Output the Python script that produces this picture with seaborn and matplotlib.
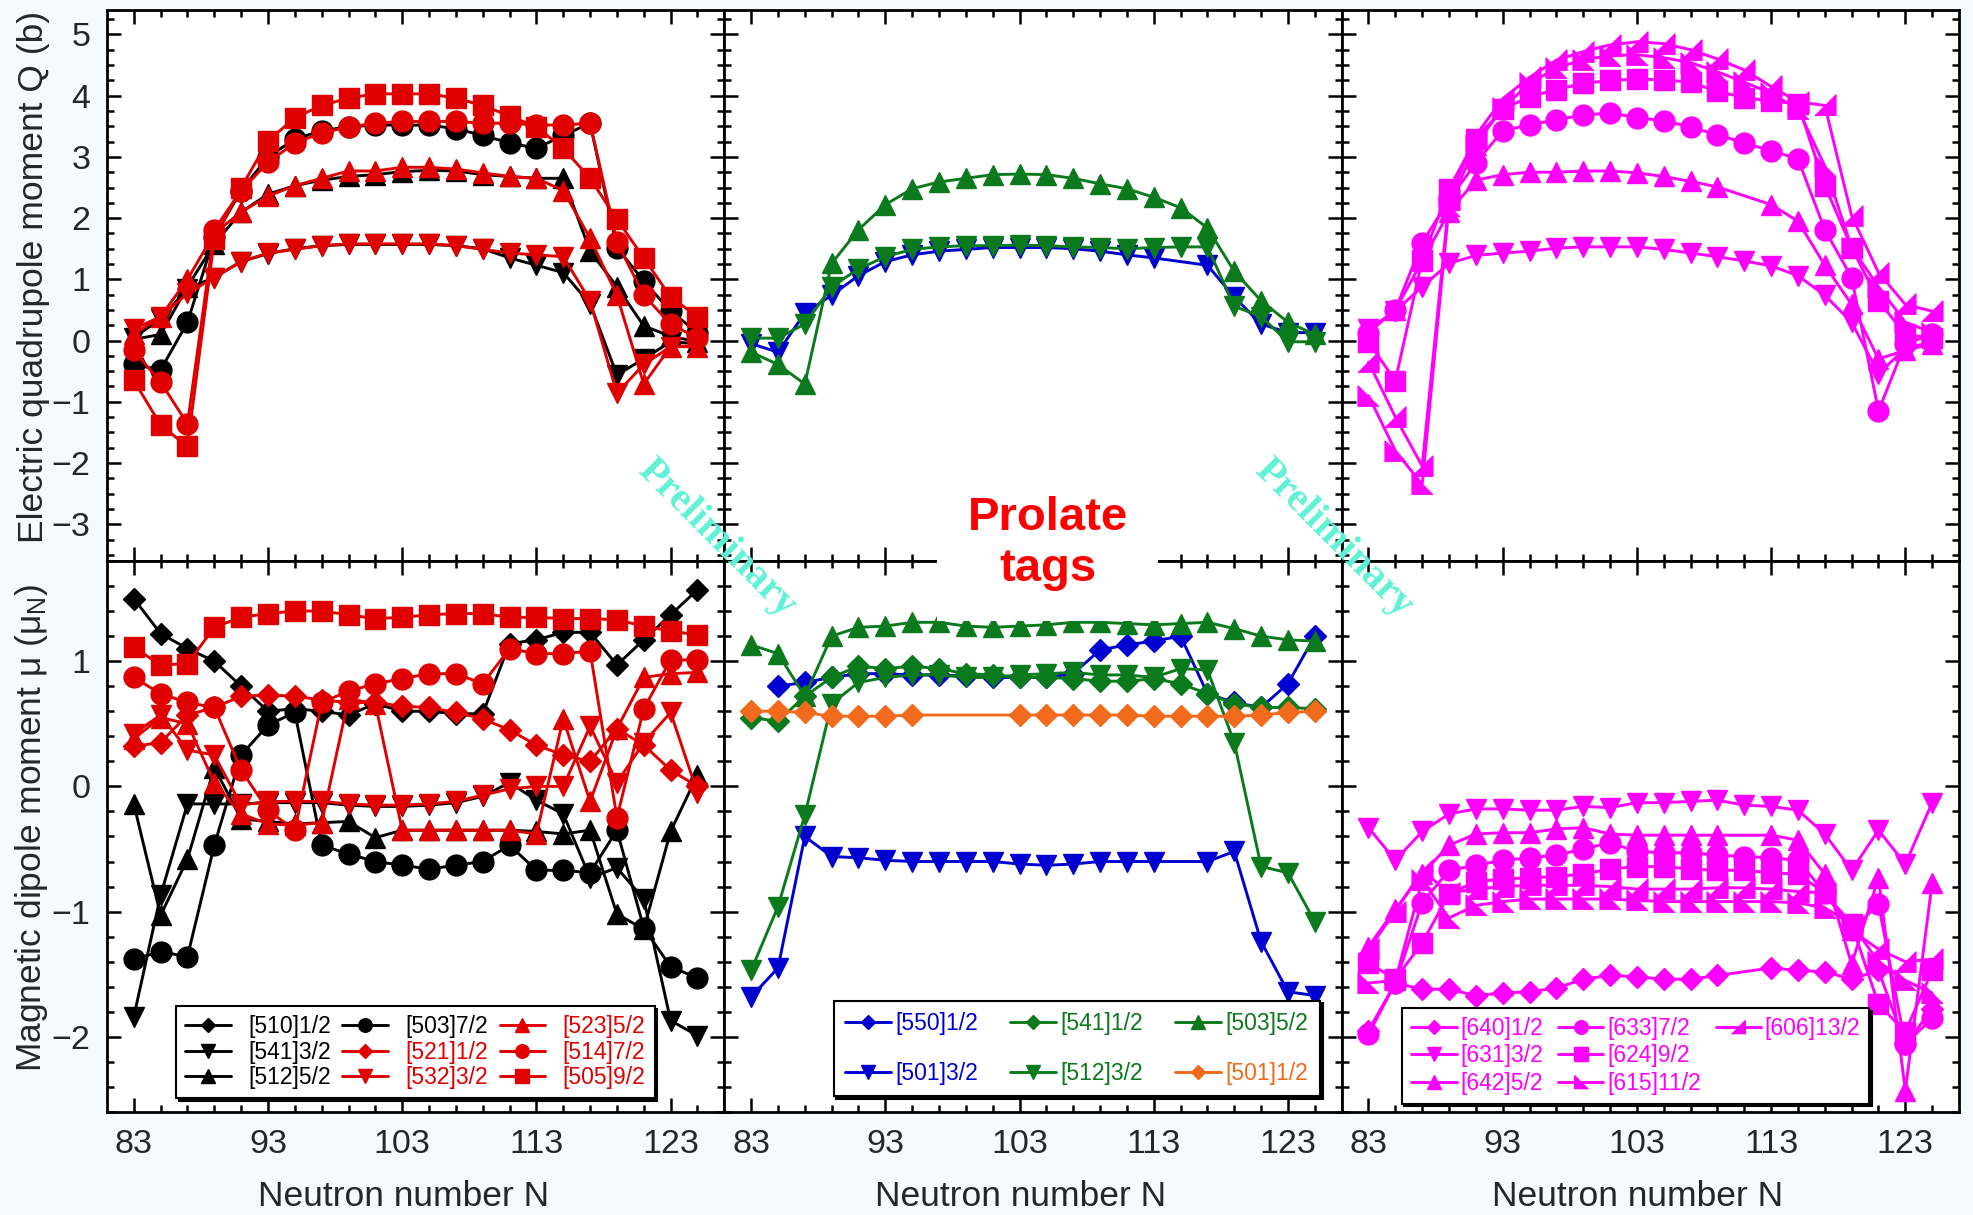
import numpy as np
import pandas as pd
import matplotlib
matplotlib.use('Agg')
import matplotlib.pyplot as plt
from matplotlib.ticker import FixedLocator, MultipleLocator
import seaborn as sns

sns.set_theme(style='ticks')
plt.rcParams['font.family'] = ['Liberation Sans', 'DejaVu Sans']
plt.rcParams['mathtext.fontset'] = 'custom'
plt.rcParams['mathtext.rm'] = 'Liberation Sans'
plt.rcParams['mathtext.it'] = 'Liberation Sans'

nan = np.nan

# Neutron numbers (x values)
N = [83, 85, 87, 89, 91, 93, 95, 97, 99, 101, 103, 105, 107, 109, 111, 113, 115, 117, 119, 121, 123, 125]

# ---- left column: black / red orbitals ----
q_541 = [0.05, 0.35, 0.85, 1.03, 1.29, 1.42, 1.5, 1.55, 1.57, 1.57, 1.57, 1.57, 1.55, 1.5, 1.35, 1.23, 1.11, 0.6, -0.56, -0.3, -0.02, -0.05]
q_512 = [0.02, 0.1, 0.88, 1.58, 2.1, 2.39, 2.53, 2.62, 2.68, 2.71, 2.76, 2.78, 2.77, 2.71, 2.68, 2.65, 2.65, 1.46, 0.88, 0.24, 0.07, -0.02]
q_503 = [-0.39, -0.48, 0.30, 1.69, 2.45, 3.0, 3.29, 3.43, 3.49, 3.52, 3.52, 3.52, 3.46, 3.35, 3.23, 3.14, 3.35, 3.55, 1.52, 0.97, 0.48, 0.13]
q_532 = [0.19, 0.39, 0.77, 1.03, 1.29, 1.43, 1.49, 1.55, 1.58, 1.58, 1.58, 1.58, 1.55, 1.49, 1.43, 1.40, 1.37, 0.65, -0.86, -0.39, -0.10, -0.08]
q_523 = [0.1, 0.39, 1.0, 1.75, 2.1, 2.36, 2.53, 2.65, 2.77, 2.77, 2.83, 2.83, 2.8, 2.74, 2.68, 2.65, 2.45, 1.67, 0.74, -0.71, -0.10, -0.10]
q_514 = [-0.16, -0.68, -1.36, 1.81, 2.45, 2.91, 3.23, 3.39, 3.49, 3.55, 3.58, 3.58, 3.58, 3.55, 3.55, 3.52, 3.52, 3.55, 1.61, 0.74, 0.27, 0.04]
q_505 = [-0.65, -1.38, -1.73, 1.66, 2.5, 3.26, 3.64, 3.84, 3.96, 4.03, 4.03, 4.03, 3.96, 3.84, 3.67, 3.49, 3.14, 2.65, 1.98, 1.35, 0.71, 0.39]

mu_510 = [1.50, 1.22, 1.10, 1.0, 0.8, 0.6, 0.62, 0.6, 0.57, 0.66, 0.6, 0.6, 0.58, 0.58, 1.14, 1.17, 1.23, 1.23, 0.97, 1.17, 1.37, 1.57]
mu_541 = [-1.84, -0.87, -0.14, -0.14, -0.14, -0.13, -0.13, -0.13, -0.15, -0.16, -0.16, -0.15, -0.13, -0.08, 0.03, -0.11, -0.22, -0.73, -0.65, -0.90, -1.87, -1.99]
mu_512 = [-0.14, -1.03, -0.58, 0.15, -0.26, -0.28, -0.30, -0.29, -0.28, -0.41, -0.35, -0.35, -0.35, -0.35, -0.35, -0.36, -0.38, -0.35, -1.02, -1.14, -0.36, 0.09]
mu_503 = [-1.38, -1.32, -1.36, -0.47, 0.25, 0.49, 0.59, -0.47, -0.54, -0.60, -0.63, -0.66, -0.63, -0.60, -0.47, -0.67, -0.67, -0.69, -0.35, -1.13, -1.44, -1.53]
mu_521 = [0.32, 0.35, 0.57, 0.63, 0.72, 0.73, 0.72, 0.69, 0.67, 0.67, 0.64, 0.63, 0.59, 0.54, 0.45, 0.33, 0.25, 0.20, 0.46, 0.33, 0.13, 0.0]
mu_532 = [0.42, 0.57, 0.29, 0.25, -0.15, -0.12, -0.12, -0.12, -0.14, -0.15, -0.15, -0.14, -0.12, -0.07, -0.02, 0.0, 0.0, 0.48, 0.03, 0.35, 0.59, -0.05]
mu_523 = [0.38, 0.55, 0.50, 0.03, -0.22, -0.30, -0.31, -0.29, 0.70, 0.66, -0.35, -0.35, -0.35, -0.35, -0.35, -0.38, 0.54, -0.12, 0.46, 0.87, 0.90, 0.91]
mu_514 = [0.87, 0.74, 0.67, 0.63, 0.13, -0.19, -0.35, 0.67, 0.76, 0.82, 0.86, 0.90, 0.90, 0.82, 1.10, 1.06, 1.06, 1.08, -0.25, 0.62, 1.01, 1.01]
mu_505 = [1.11, 0.97, 0.98, 1.27, 1.35, 1.38, 1.40, 1.40, 1.37, 1.34, 1.35, 1.37, 1.38, 1.38, 1.35, 1.35, 1.34, 1.34, 1.33, 1.28, 1.24, 1.21]

# ---- middle column: blue / green / orange ----
q_503g = [-0.19, -0.39, -0.71, 1.26, 1.81, 2.22, 2.48, 2.59, 2.65, 2.71, 2.72, 2.71, 2.65, 2.56, 2.48, 2.34, 2.17, 1.84, 1.13, 0.65, 0.30, 0.10]
q_512g = [0.04, 0.04, 0.27, 0.88, 1.17, 1.37, 1.49, 1.53, 1.55, 1.55, 1.56, 1.55, 1.53, 1.52, 1.50, 1.52, 1.53, 1.53, 0.56, 0.39, -0.02, -0.02]
q_501b = [-0.05, -0.19, 0.45, 0.74, 1.06, 1.29, 1.40, 1.46, 1.49, 1.52, 1.52, 1.52, 1.50, 1.46, 1.40, 1.35, nan, 1.23, 0.71, 0.27, 0.13, 0.13]

mu_550 = [nan, 0.80, 0.83, 0.87, 0.90, 0.90, 0.89, 0.89, 0.88, 0.87, 0.87, 0.87, 0.90, 1.09, 1.13, 1.16, 1.20, 0.74, 0.67, 0.63, 0.82, 1.20]
mu_541g = [0.55, 0.52, 0.72, 0.87, 0.96, 0.94, 0.96, 0.94, 0.90, 0.89, 0.87, 0.87, 0.86, 0.84, 0.84, 0.86, 0.82, 0.74, 0.66, 0.63, 0.63, 0.62]
mu_503g = [1.13, 1.06, 0.72, 1.20, 1.27, 1.28, 1.31, 1.31, 1.28, 1.27, 1.28, 1.29, 1.31, 1.31, 1.30, 1.29, 1.30, 1.31, 1.26, 1.20, 1.17, 1.16]
mu_512g = [-1.47, -0.96, -0.23, 0.66, 0.83, 0.87, 0.89, 0.89, 0.87, 0.87, 0.89, 0.90, 0.91, 0.89, 0.89, 0.87, 0.94, 0.93, 0.35, -0.64, -0.69, -1.08]
mu_501b = [-1.68, -1.45, -0.40, -0.56, -0.57, -0.59, -0.60, -0.60, -0.60, -0.60, -0.62, -0.63, -0.62, -0.60, -0.60, -0.60, nan, -0.60, -0.52, -1.24, -1.64, -1.67]
mu_501o = [0.60, 0.60, 0.59, 0.56, 0.56, 0.56, 0.57, nan, nan, nan, 0.57, 0.57, 0.57, 0.57, 0.57, 0.56, 0.56, 0.56, 0.56, 0.57, 0.59, 0.60]

# ---- right column: magenta ----
q_631 = [0.19, 0.48, 0.88, 1.26, 1.39, 1.43, 1.46, 1.51, 1.53, 1.53, 1.53, 1.49, 1.43, 1.37, 1.30, 1.22, 1.06, 0.74, 0.30, -0.54, -0.13, -0.02]
q_642 = [0.15, 0.5, 1.3, 2.1, 2.62, 2.71, 2.75, 2.75, 2.77, 2.77, 2.74, 2.68, 2.60, 2.51, nan, 2.22, 1.95, 1.23, 0.59, -0.3, -0.16, -0.05]
q_633 = [0.13, 0.5, 1.6, 2.3, 2.9, 3.43, 3.52, 3.61, 3.68, 3.72, 3.64, 3.59, 3.49, 3.36, 3.23, 3.10, 2.97, 1.81, 1.03, -1.15, -0.05, 0.10]
q_624 = [-0.02, -0.66, 1.32, 2.48, 3.29, 3.78, 3.98, 4.1, 4.2, 4.25, 4.27, 4.26, 4.22, 4.07, 3.97, 3.91, 3.87, 2.53, 1.52, 0.65, 0.10, 0.04]
q_615 = [-0.9, -1.8, -2.35, 2.2, 3.2, 3.8, 4.2, 4.45, 4.59, 4.65, 4.67, 4.62, 4.54, 4.39, 4.22, 4.04, 3.78, 2.85, 1.52, 0.88, 0.30, 0.13]
q_606 = [-0.35, -1.25, -2.05, 2.3, 3.35, 3.95, 4.3, 4.58, 4.72, 4.83, 4.88, 4.85, 4.75, 4.6, 4.42, 4.15, 3.9, 3.84, 2.04, 1.11, 0.59, 0.48]

mu_640 = [-1.95, -1.57, -1.62, -1.62, -1.67, -1.65, -1.64, -1.61, -1.54, -1.51, -1.52, -1.54, -1.54, -1.51, nan, -1.45, -1.47, -1.48, -1.54, -1.47, -2.06, -1.78]
mu_631 = [-0.33, -0.59, -0.36, -0.22, -0.18, -0.18, -0.19, -0.19, -0.16, -0.17, -0.13, -0.13, -0.12, -0.11, -0.15, -0.16, -0.19, -0.38, -0.67, -0.35, -0.62, -0.13]
mu_642 = [-1.28, -0.98, -0.7, -0.47, -0.38, -0.37, -0.37, -0.34, -0.33, -0.38, -0.39, -0.39, -0.39, -0.39, nan, -0.39, -0.43, -0.70, -1.42, -0.73, -2.43, -0.77]
mu_633 = [-1.98, -1.57, -0.93, -0.67, -0.63, -0.59, -0.57, -0.55, -0.50, -0.45, -0.52, -0.53, -0.53, -0.55, -0.56, -0.57, -0.59, -0.85, -1.15, -0.94, -2.06, -1.85]
mu_624 = [-1.41, -1.54, -1.25, -0.86, -0.76, -0.74, -0.73, -0.72, -0.70, -0.66, -0.64, -0.64, -0.66, -0.67, -0.67, -0.69, -0.70, -0.85, -1.10, -1.74, -1.96, -1.47]
mu_615 = [-1.57, -1.55, -0.75, -1.05, -0.95, -0.92, -0.90, -0.90, -0.90, -0.90, -0.91, -0.92, -0.92, -0.92, -0.92, -0.92, -0.93, -0.97, -1.10, -1.40, -1.55, -1.65]
mu_606 = [-1.30, -1.00, -0.67, -0.85, -0.82, -0.80, -0.79, -0.79, -0.79, -0.80, -0.82, -0.82, -0.82, -0.81, -0.81, -0.82, -0.84, -0.85, -1.15, -1.30, -1.40, -1.38]

BLACK = '#000000'
RED = '#e00000'
BLUE = '#0000d0'
GREEN = '#0b7a1c'
ORANGE = '#f26a1b'
MAG = '#ff00ff'

TRI_L = [(-1, -1), (-1, 1), (1, -1)]   # right angle bottom-left
TRI_R = [(1, -1), (1, 1), (-1, -1)]    # right angle bottom-right
MSIZE = {'D': 11, 'v': 15, '^': 15, 'o': 15, 's': 15}


def draw(ax, vals, color, marker, label=None):
    df = pd.DataFrame({'N': N, 'v': vals}).dropna()
    ms = MSIZE.get(marker, 15) if isinstance(marker, str) else 15
    sns.lineplot(data=df, x='N', y='v', ax=ax, color=color, marker=marker,
                 markersize=ms, markeredgecolor=color, markeredgewidth=1,
                 linewidth=2.1, legend=False, label=label)
    return ax.get_lines()[-1]


def add_legend(ax, handles, labels, anchor, **kw):
    leg = ax.legend(handles=handles, labels=labels, ncol=3, loc='lower left',
                    bbox_to_anchor=anchor, borderaxespad=0, fontsize=16.5,
                    labelcolor='linecolor', handlelength=2.0, markerscale=0.65,
                    fancybox=False, framealpha=1, edgecolor='black',
                    shadow={'color': 'black', 'alpha': 1}, **kw)
    leg.get_frame().set_linewidth(1.5)
    return leg


fig = plt.figure(figsize=(19.73, 12.15), dpi=100, facecolor='#f6fafc')
axes = fig.subplots(2, 3, sharex=True, sharey='row')
fig.subplots_adjust(left=0.0542, right=0.9929, bottom=0.0848, top=0.9918,
                    wspace=0, hspace=0)

# top-left
ax = axes[0, 0]
draw(ax, q_541, BLACK, 'v')
draw(ax, q_512, BLACK, '^')
draw(ax, q_503, BLACK, 'o')
draw(ax, q_532, RED, 'v')
draw(ax, q_523, RED, '^')
draw(ax, q_514, RED, 'o')
draw(ax, q_505, RED, 's')

# bottom-left
ax = axes[1, 0]
h = {}
h['510'] = draw(ax, mu_510, BLACK, 'D', '[510]1/2')
h['541'] = draw(ax, mu_541, BLACK, 'v', '[541]3/2')
h['512'] = draw(ax, mu_512, BLACK, '^', '[512]5/2')
h['503'] = draw(ax, mu_503, BLACK, 'o', '[503]7/2')
h['521'] = draw(ax, mu_521, RED, 'D', '[521]1/2')
h['532'] = draw(ax, mu_532, RED, 'v', '[532]3/2')
h['523'] = draw(ax, mu_523, RED, '^', '[523]5/2')
h['514'] = draw(ax, mu_514, RED, 'o', '[514]7/2')
h['505'] = draw(ax, mu_505, RED, 's', '[505]9/2')
order = ['510', '541', '512', '503', '521', '532', '523', '514', '505']
hl = [h[k] for k in order]
add_legend(ax, hl, [x.get_label() for x in hl], (0.112, 0.025),
           handletextpad=0.75, columnspacing=0.5, labelspacing=0.1, borderpad=0.4)

# top-middle
ax = axes[0, 1]
draw(ax, q_501b, BLUE, 'v')
draw(ax, q_503g, GREEN, '^')
draw(ax, q_512g, GREEN, 'v')

# bottom-middle
ax = axes[1, 1]
h = {}
h['550'] = draw(ax, mu_550, BLUE, 'D', '[550]1/2')
h['501b'] = draw(ax, mu_501b, BLUE, 'v', '[501]3/2')
h['541'] = draw(ax, mu_541g, GREEN, 'D', '[541]1/2')
h['503'] = draw(ax, mu_503g, GREEN, '^', '[503]5/2')
h['512'] = draw(ax, mu_512g, GREEN, 'v', '[512]3/2')
h['501o'] = draw(ax, mu_501o, ORANGE, 'D', '[501]1/2')
order = ['550', '501b', '541', '512', '503', '501o']
hl = [h[k] for k in order]
add_legend(ax, hl, [x.get_label() for x in hl], (0.177, 0.029),
           handletextpad=0.2, columnspacing=1.4, labelspacing=1.15, borderpad=0.5)

# top-right
ax = axes[0, 2]
draw(ax, q_631, MAG, 'v')
draw(ax, q_642, MAG, '^')
draw(ax, q_633, MAG, 'o')
draw(ax, q_624, MAG, 's')
draw(ax, q_615, MAG, TRI_L)
draw(ax, q_606, MAG, TRI_R)

# bottom-right
ax = axes[1, 2]
h = {}
h['640'] = draw(ax, mu_640, MAG, 'D', '[640]1/2')
h['631'] = draw(ax, mu_631, MAG, 'v', '[631]3/2')
h['642'] = draw(ax, mu_642, MAG, '^', '[642]5/2')
h['633'] = draw(ax, mu_633, MAG, 'o', '[633]7/2')
h['624'] = draw(ax, mu_624, MAG, 's', '[624]9/2')
h['615'] = draw(ax, mu_615, MAG, TRI_L, '[615]11/2')
h['606'] = draw(ax, mu_606, MAG, TRI_R, '[606]13/2')
blank = plt.Line2D([], [], alpha=0)
hl = [h['640'], h['631'], h['642'], h['633'], h['624'], h['615'], h['606'], blank, blank]
add_legend(ax, hl, [x.get_label() if x is not blank else '' for x in hl], (0.097, 0.015),
           handletextpad=0.15, columnspacing=0.65, labelspacing=0.18, borderpad=0.4)

# axes formatting
for ax in axes.flat:
    ax.set_xlim(81, 127)
    ax.xaxis.set_major_locator(FixedLocator([83, 93, 103, 113, 123]))
    ax.xaxis.set_minor_locator(FixedLocator(N))
    ax.tick_params(which='both', direction='in', top=True, right=True,
                   labelsize=24.5, width=1.8, color='black')
    ax.tick_params(which='major', length=10, pad=12)
    ax.tick_params(which='minor', length=5)
    for s in ax.spines.values():
        s.set_linewidth(2)
        s.set_color('black')
    ax.set_facecolor('white')
    ax.set_xlabel('')
    ax.set_ylabel('')

axes[0, 0].set_ylim(-3.6, 5.4)
axes[0, 0].yaxis.set_major_locator(MultipleLocator(1))
axes[0, 0].yaxis.set_minor_locator(MultipleLocator(0.25))
axes[1, 0].set_ylim(-2.6, 1.8)
axes[1, 0].yaxis.set_major_locator(MultipleLocator(1))
axes[1, 0].yaxis.set_minor_locator(MultipleLocator(0.2))

axes[0, 0].set_ylabel('Electric quadrupole moment Q (b)', fontsize=25.5)
axes[0, 0].yaxis.set_label_coords(-0.093, 0.515)
axes[1, 0].set_ylabel(r'Magnetic dipole moment μ (μ$_\mathrm{N}$)', fontsize=25.5)
axes[1, 0].yaxis.set_label_coords(-0.093, 0.515)
for ax in axes[1]:
    ax.set_xlabel('Neutron number N', fontsize=25.5)
    ax.xaxis.set_label_coords(0.48, -0.124)

# overlay texts
fig.text(0.531, 0.553, 'Prolate\ntags', color='#ff0000', fontsize=34,
         fontweight='bold', ha='center', va='center', linespacing=1.2,
         bbox=dict(facecolor='white', edgecolor='none', pad=22), zorder=10)
for xc in (0.3634, 0.6761):
    fig.text(xc, 0.557, 'Preliminary', rotation=-45, color='#5ff2d6',
             fontsize=29, fontweight='bold', family=['Liberation Serif', 'DejaVu Serif'],
             ha='center', va='center', zorder=11)

fig.savefig('out.png', dpi=100, facecolor=fig.get_facecolor())
